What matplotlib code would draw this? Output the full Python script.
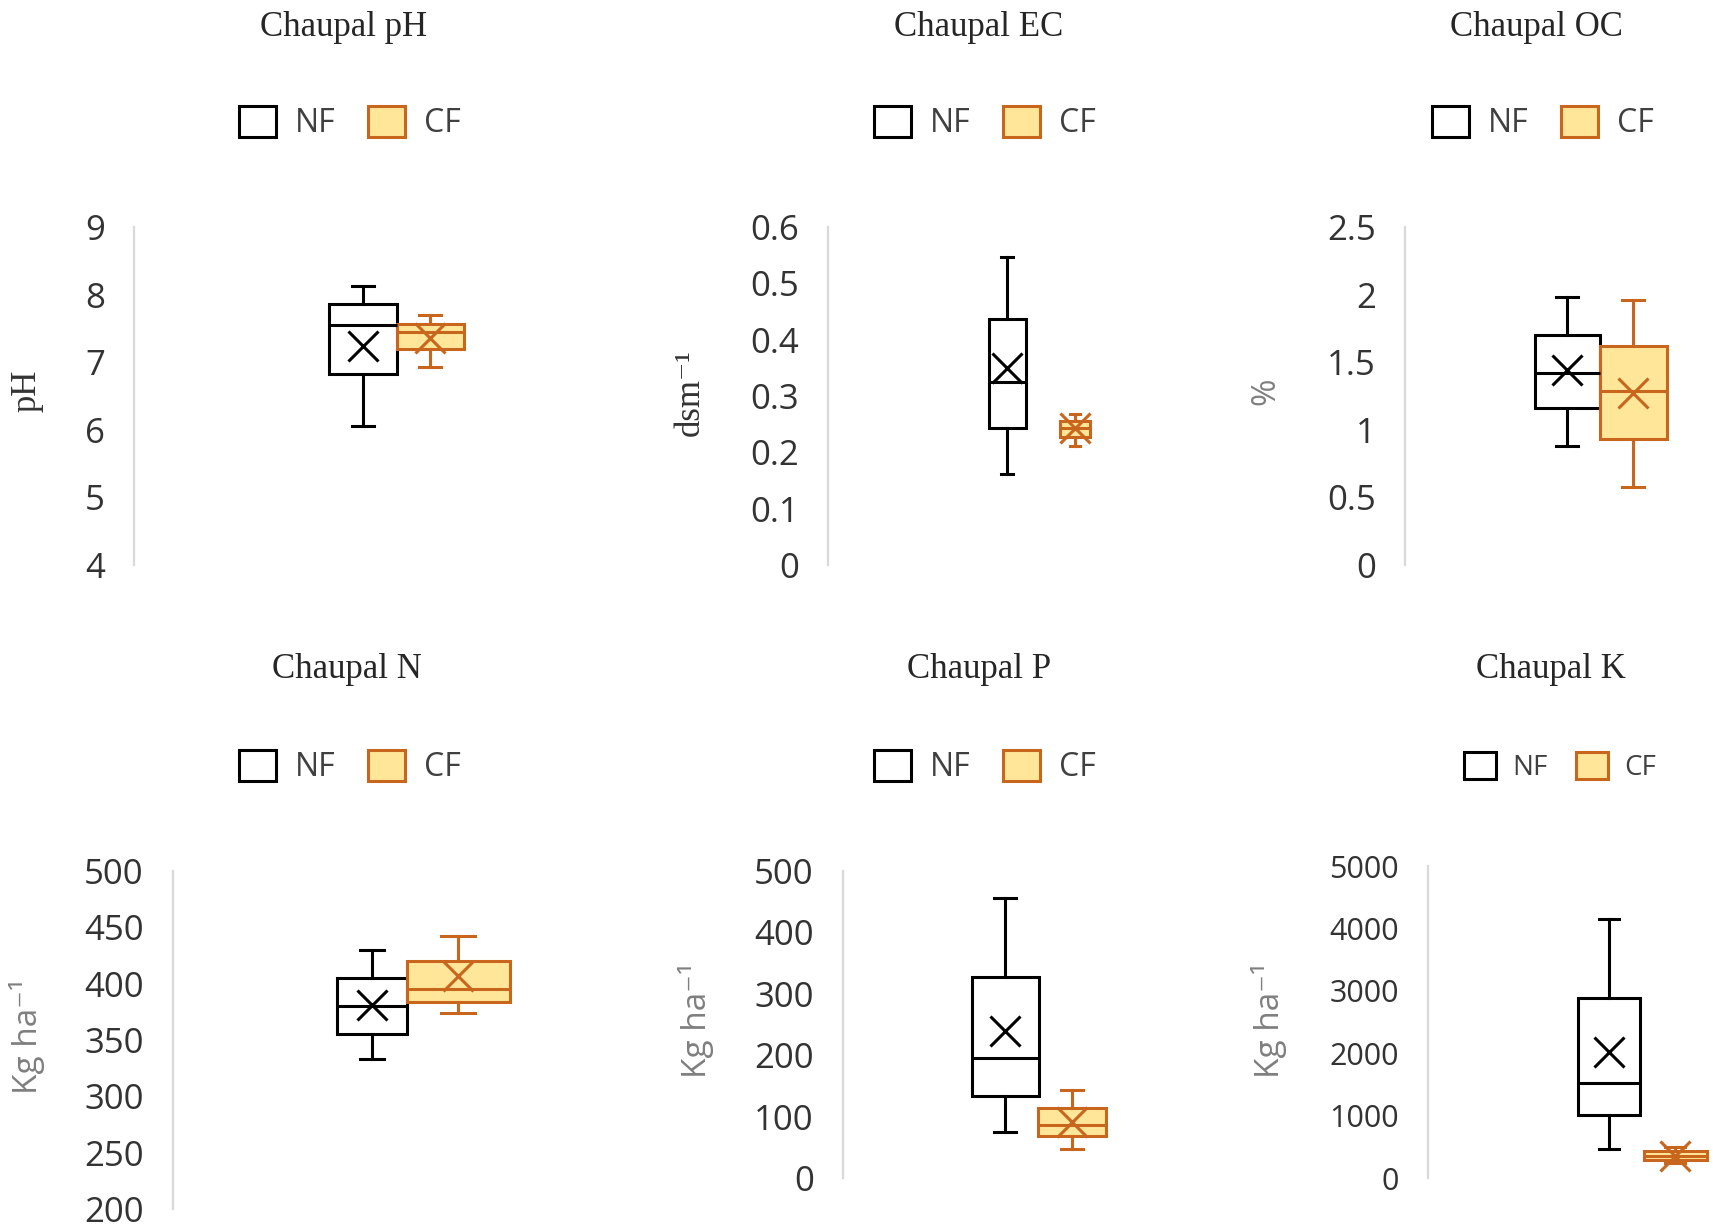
"""Six Chaupal soil-property box plots, NF vs CF, in the Excel look."""

import matplotlib

matplotlib.use("Agg")
import matplotlib.pyplot as plt
from matplotlib.patches import Patch
from matplotlib.ticker import FuncFormatter, MultipleLocator

W, H = 1713, 1232
SANS = ["Open Sans", "DejaVu Sans"]
SERIF = ["Liberation Serif", "DejaVu Serif"]
ORANGE = "#C8661E"
FILL = "#FFE699"
AXIS_GREY = "#D9D9D9"
TEXT = "#333333"

groups = ["NF", "CF"]
titles = ["Chaupal pH", "Chaupal EC", "Chaupal OC", "Chaupal N", "Chaupal P", "Chaupal K"]
ylabels = ["pH", "dsm\u207b\u00b9", "%", "Kg ha\u207b\u00b9", "Kg ha\u207b\u00b9", "Kg ha\u207b\u00b9"]
ylims = [(4, 9), (0, 0.6), (0, 2.5), (200, 500), (0, 500), (0, 5000)]
ysteps = [1, 0.1, 0.5, 50, 100, 1000]

# five-number summaries: whisker low, Q1, median, Q3, whisker high
ph_nf = [6.05, 6.82, 7.55, 7.86, 8.12]
ph_cf = [6.93, 7.20, 7.44, 7.56, 7.70]
ec_nf = [0.162, 0.243, 0.325, 0.437, 0.547]
ec_cf = [0.212, 0.228, 0.243, 0.256, 0.268]
oc_nf = [0.88, 1.16, 1.42, 1.70, 1.98]
oc_cf = [0.575, 0.93, 1.29, 1.62, 1.96]
n_nf = [333, 355, 380, 405, 430]
n_cf = [374, 384, 395, 420, 442]
p_nf = [75, 133, 195, 327, 456]
p_cf = [47, 69, 87, 114, 143]
k_nf = [460, 1010, 1530, 2880, 4150]
k_cf = [240, 290, 360, 440, 500]

# means (the X markers)
means_nf = [7.24, 0.35, 1.44, 381, 240, 2020]
means_cf = [7.36, 0.243, 1.27, 407, 92, 360]

summaries_nf = [ph_nf, ec_nf, oc_nf, n_nf, p_nf, k_nf]
summaries_cf = [ph_cf, ec_cf, oc_cf, n_cf, p_cf, k_cf]

# layout in pixels: axis x, y of top/bottom tick, NF centre/width, CF centre/width,
# title centre, legend centre, y-label centre
layout = [
    dict(ax=134, yt=227, yb=565, nf=(363, 68), cf=(430, 67), title=(344, 27), leg=(350, 123), yl=(27, 391)),
    dict(ax=828, yt=227, yb=565, nf=(1007, 37), cf=(1075, 30), title=(979, 27), leg=(985, 123), yl=(690, 393)),
    dict(ax=1405, yt=227, yb=565, nf=(1567, 65), cf=(1633, 67), title=(1536, 27), leg=(1543, 123), yl=(1266, 391)),
    dict(ax=173, yt=871, yb=1209, nf=(372, 70), cf=(458, 103), title=(347, 669), leg=(350, 767), yl=(27, 1036)),
    dict(ax=843, yt=871, yb=1178, nf=(1005, 67), cf=(1072, 68), title=(979, 669), leg=(985, 767), yl=(696, 1020)),
    dict(ax=1428, yt=866, yb=1178, nf=(1609, 62), cf=(1675, 63), title=(1551, 669), leg=(1560, 767), yl=(1269, 1020)),
]


def stats(five, mean):
    lo, q1, med, q3, hi = five
    return dict(whislo=lo, q1=q1, med=med, q3=q3, whishi=hi, mean=mean, fliers=[])


def draw_box(ax, st, pos, width, edge, face):
    ax.bxp(
        [st],
        positions=[pos],
        widths=[width],
        capwidths=[width * 0.33],
        showmeans=True,
        patch_artist=True,
        manage_ticks=False,
        boxprops=dict(facecolor=face, edgecolor=edge, linewidth=2.2),
        medianprops=dict(color=edge, linewidth=2.2),
        whiskerprops=dict(color=edge, linewidth=2.2),
        capprops=dict(color=edge, linewidth=2.2),
        meanprops=dict(marker="x", markeredgecolor=edge, markersize=21, markeredgewidth=2.2),
    )


fig = plt.figure(figsize=(W / 100, H / 100), dpi=100)

for i, lay in enumerate(layout):
    span = min(420, W - lay["ax"])
    rect = [lay["ax"] / W, 1 - lay["yb"] / H, span / W, (lay["yb"] - lay["yt"]) / H]
    ax = fig.add_axes(rect)
    ax.set_xlim(0, span)
    ax.set_ylim(*ylims[i])
    ax.yaxis.set_major_locator(MultipleLocator(ysteps[i]))
    ax.yaxis.set_major_formatter(FuncFormatter(lambda v, _: f"{v:g}"))
    ax.set_xticks([])
    for side in ("top", "right", "bottom"):
        ax.spines[side].set_visible(False)
    ax.spines["left"].set_color(AXIS_GREY)
    ax.spines["left"].set_linewidth(1.6)
    tick_size = 22 if i == 5 else 25
    ax.tick_params(axis="y", length=0, pad=21, labelsize=tick_size, labelcolor=TEXT)
    for lab in ax.get_yticklabels():
        lab.set_fontfamily(SANS)

    draw_box(ax, stats(summaries_nf[i], means_nf[i]), lay["nf"][0] - lay["ax"], lay["nf"][1], "black", "white")
    draw_box(ax, stats(summaries_cf[i], means_cf[i]), lay["cf"][0] - lay["ax"], lay["cf"][1], ORANGE, FILL)

    tx, ty = lay["title"]
    fig.text(tx / W, 1 - ty / H, titles[i], ha="center", va="center",
             fontsize=25, family=SERIF, color="#262626")

    lx, ly = lay["yl"]
    serif_label = i in (0, 1)
    fig.text(lx / W, 1 - ly / H, ylabels[i], ha="center", va="center", rotation=90,
             fontsize=25 if serif_label else 24,
             family=SERIF if serif_label else SANS,
             color=TEXT if serif_label else "#7F7F7F")

    handles = [
        Patch(facecolor="white", edgecolor="black", linewidth=2.2, label=groups[0]),
        Patch(facecolor=FILL, edgecolor=ORANGE, linewidth=2.2, label=groups[1]),
    ]
    gx, gy = lay["leg"]
    leg_size = 20 if i == 5 else 23
    fig.legend(handles=handles, loc="center", bbox_to_anchor=(gx / W, 1 - gy / H),
               ncol=2, frameon=False, prop=dict(family=SANS, size=leg_size),
               handlelength=1.15, handleheight=1.15, handletextpad=0.6,
               columnspacing=1.0, labelcolor="#404040")

fig.savefig("out.png", dpi=100, facecolor="white")
